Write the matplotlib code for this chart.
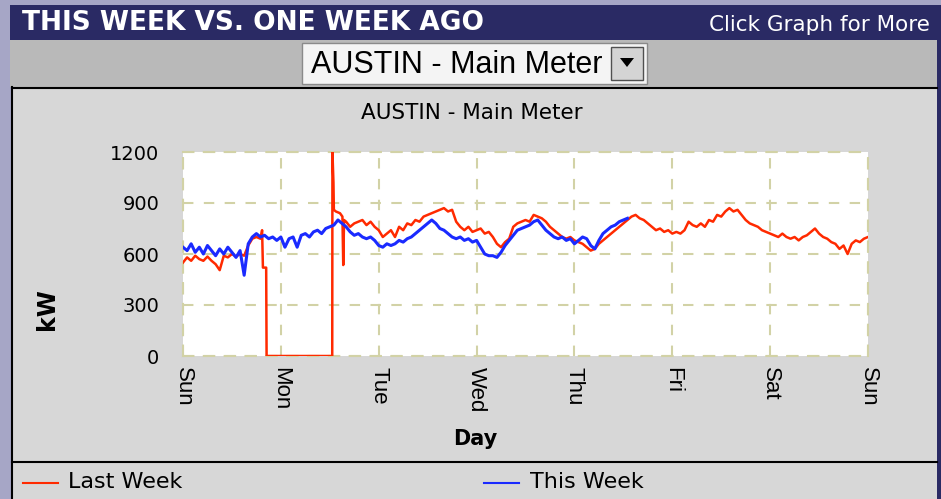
import matplotlib
matplotlib.use("Agg")
import matplotlib.pyplot as plt
from matplotlib.patches import Rectangle, Polygon

plt.rcParams['font.family'] = ['DejaVu Sans']
LIB = ['Liberation Sans', 'DejaVu Sans']

# ---------------- data ----------------
day_labels = ["Sun", "Mon", "Tue", "Wed", "Thu", "Fri", "Sat", "Sun"]
day_hours = [0, 24, 48, 72, 96, 120, 144, 168]
y_ticks = [0, 300, 600, 900, 1200]

red_hours = (list(range(0, 20)) + [19.4, 19.6, 20.4, 20.5, 36.6, 36.65, 36.9, 37.0,
                                    37.5, 38.5, 39.1, 39.3, 39.5, 40]
             + list(range(41, 169)))
red_kw = ([550, 580, 560, 590, 570, 560, 585, 560, 540, 505, 590, 580, 600, 585,
           600, 590, 650, 690, 700, 690,
           740, 520, 520, 0, 0, 1200, 1020, 860, 850, 840, 820, 535, 800, 790,
           760, 780, 790, 800, 770, 790, 760, 740, 700, 720, 740, 700, 760, 740,
           780, 770, 800, 790, 820, 830, 840, 850, 860, 870, 850, 860, 790, 760,
           740, 760, 730, 740, 750, 720, 730, 700, 660, 640, 670, 690, 760, 780,
           790, 800, 790, 830, 820, 810, 790, 760, 740, 720, 700, 690, 700, 680,
           670, 660, 640, 620, 630, 660, 680, 700, 720, 740, 760, 780, 800, 820,
           830, 810, 800, 780, 760, 740, 750, 730, 740, 720, 730, 720, 740, 790,
           770, 760, 780, 760, 800, 790, 830, 820, 850, 870, 850, 860, 830, 800,
           780, 770, 760, 740, 730, 720, 710, 700, 720, 700, 690, 700, 680, 700,
           710, 730, 750, 720, 700, 690, 670, 660, 630, 650, 600, 660, 680, 670,
           690, 700])

blue_hours = list(range(0, 110))
blue_kw = [640, 620, 660, 610, 640, 600, 650, 620, 590, 630, 600, 640, 610, 580,
           620, 475, 660, 700, 720, 700, 710, 690, 700, 680, 700, 640, 690, 700,
           640, 710, 720, 700, 730, 740, 720, 750, 760, 770, 800, 780, 760, 730,
           710, 720, 700, 690, 700, 680, 650, 640, 660, 650, 660, 680, 670, 690,
           700, 720, 740, 760, 780, 800, 780, 750, 740, 720, 700, 690, 700, 680,
           690, 670, 680, 640, 600, 590, 590, 580, 610, 650, 680, 710, 740, 750,
           760, 770, 790, 800, 770, 740, 720, 700, 690, 700, 680, 690, 660, 680,
           700, 690, 650, 630, 680, 720, 740, 760, 770, 790, 800, 810]

W, H = 941, 499
fig = plt.figure(figsize=(W / 100, H / 100), dpi=100)

# ---------------- background / frame ----------------
bg = fig.add_axes([0, 0, 1, 1])
bg.set_xlim(0, W)
bg.set_ylim(H, 0)
bg.axis('off')

def rect(x0, y0, x1, y1, fc, ec='none', lw=0, z=1):
    bg.add_patch(Rectangle((x0, y0), x1 - x0, y1 - y0, facecolor=fc,
                           edgecolor=ec, linewidth=lw, zorder=z))

rect(0, 0, W, H, '#a6a6c6')
rect(10, 5, W, 40, '#2a2a64')
rect(937, 5, W, H, '#2a2a64')
rect(10, 40, 937, 87, '#b9b9b9')
rect(12, 87, 937, H, '#d7d7d7')
bg.plot([12, 937], [87.5, 87.5], color='black', lw=1.5, zorder=3)
bg.plot([12.5, 12.5], [87, H], color='black', lw=1.5, zorder=3)
bg.plot([12, 937], [462, 462], color='black', lw=1.5, zorder=3)

# dropdown box
rect(302, 43, 647, 84, '#f4f4f4', ec='#8a8a8a', lw=1.0, z=2)
rect(611, 47, 643, 80, '#d4d4d4', ec='#505050', lw=1.0, z=3)
bg.add_patch(Polygon([[620, 58], [634, 58], [627, 67]], closed=True,
                     facecolor='black', edgecolor='none', zorder=4))

# texts
bg.text(22, 23, "THIS WEEK VS. ONE WEEK AGO", color='white', fontsize=19,
        fontweight='bold', ha='left', va='center', zorder=5)
bg.text(930, 25, "Click Graph for More", color='white', fontsize=15.5,
        ha='right', va='center', zorder=5)
bg.text(311, 65, "AUSTIN - Main Meter", color='black', fontsize=22,
        family=LIB, ha='left', va='center', zorder=5)
bg.text(472, 113, "AUSTIN - Main Meter", color='black', fontsize=15.5,
        ha='center', va='center', zorder=5)
bg.text(47, 309, "kW", color='black', fontsize=17, fontweight='bold',
        rotation=90, ha='center', va='center', zorder=5)
bg.text(475, 439, "Day", color='black', fontsize=15, fontweight='bold',
        ha='center', va='center', zorder=5)

# legend
bg.plot([23, 58], [483, 483], color='#ff2a00', lw=1.5, zorder=5)
bg.text(68, 482, "Last Week", color='black', fontsize=16,
        ha='left', va='center', zorder=5)
bg.plot([484, 519], [483, 483], color='#1a2aff', lw=1.5, zorder=5)
bg.text(530, 482, "This Week", color='black', fontsize=16,
        ha='left', va='center', zorder=5)

# ---------------- main plot ----------------
x0, y0, x1, y1 = 183, 152, 868, 356
ax = fig.add_axes([x0 / W, 1 - y1 / H, (x1 - x0) / W, (y1 - y0) / H])
ax.set_facecolor('white')
ax.plot(red_hours, red_kw, color='#ff2a00', lw=1.8, zorder=3)
ax.plot(blue_hours, blue_kw, color='#1a2aff', lw=2.2, zorder=4)

ax.set_xlim(0, 168)
ax.set_ylim(0, 1200)
ax.set_xticks(day_hours)
ax.set_xticklabels(day_labels, rotation=-90, fontsize=16, va='top',
                   family=LIB)
ax.set_yticks(y_ticks)
ax.set_yticklabels([str(v) for v in y_ticks], fontsize=14)
ax.tick_params(axis='both', length=0)
ax.tick_params(axis='y', pad=17)
ax.tick_params(axis='x', pad=8)
grid_col = '#d2d2a6'
ax.grid(True, color=grid_col, linestyle=(0, (5, 5)), linewidth=1.5, zorder=1)
for sp in ax.spines.values():
    sp.set_color(grid_col)
    sp.set_linestyle((0, (5, 5)))
    sp.set_linewidth(1.5)

fig.savefig("out.png", dpi=100)
